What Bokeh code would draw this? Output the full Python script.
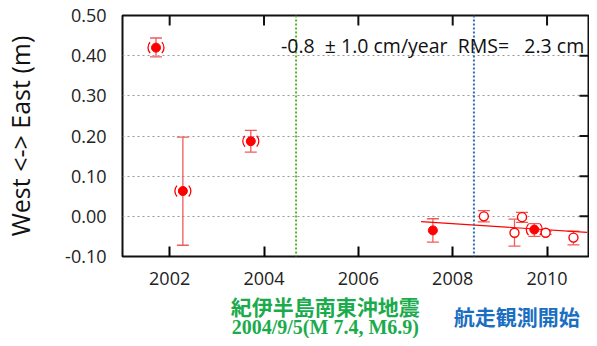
import numpy as np
from bokeh.plotting import figure
from bokeh.layouts import column
from bokeh.models import (FixedTicker, Span, Label, Whisker, TeeHead,
                          ColumnDataSource, Range1d)
from bokeh.core.properties import value
from bokeh.embed import file_html
from bokeh.resources import INLINE

# ---- data ----
years_filled = [2001.71, 2002.28, 2003.72, 2007.58, 2009.73]
ew_filled = [0.420, 0.063, 0.187, -0.035, -0.033]
lo_filled = [0.397, -0.072, 0.160, -0.064, -0.050]
hi_filled = [0.444, 0.197, 0.214, -0.006, -0.018]
paren_flag = [1, 1, 1, 0, 1]

years_open = [2008.66, 2009.31, 2009.47, 2009.97, 2010.56]
ew_open = [0.000, -0.041, -0.002, -0.041, -0.053]
lo_open = [-0.014, -0.074, -0.015, -0.045, -0.071]
hi_open = [0.014, -0.007, 0.010, -0.037, -0.037]

trend_x = [2007.33, 2010.85]
trend_y = [-0.013, -0.040]

quake_year = 2004.68
survey_year = 2008.45

x_min, x_max = 2001.0, 2010.9
y_min, y_max = -0.1, 0.5
x_ticks = [2002, 2004, 2006, 2008, 2010]
y_ticks = [-0.1, 0.0, 0.1, 0.2, 0.3, 0.4, 0.5]
grid_ticks = [0.0, 0.1, 0.2, 0.3, 0.4]

NB = "\u00a0"
stat_text = f"-0.8{NB}{NB}\u00b1{NB}1.0 cm/year{NB}{NB}RMS={NB}{NB}{NB}2.3 cm"
ylabel = "West <-> East (m)"
quake_name = "紀伊半島南東沖地震"
quake_info = "2004/9/5(M 7.4, M6.9)"
survey_text = "航走観測開始"

RED = "#ff0000"
ERR = "#f25a5a"
GREEN = "#1aab4c"
BLUE = "#1b6fc2"
FONT = "Open Sans"

xr = Range1d(x_min, x_max)

p = figure(width=589, height=290, output_backend="svg", toolbar_location=None,
           x_range=xr, y_range=Range1d(y_min, y_max),
           min_border_left=112, min_border_top=15, min_border_right=0,
           min_border_bottom=34)
p.background_fill_color = "white"
p.border_fill_color = "white"
p.outline_line_color = "#111111"
p.outline_line_width = 2

# axes
p.xaxis.ticker = FixedTicker(ticks=x_ticks)
p.xaxis.major_tick_in = 10
p.xaxis.major_tick_out = 0
p.xaxis.minor_tick_line_color = None
p.xaxis.axis_line_color = None
p.xaxis.major_tick_line_width = 2
p.xaxis.major_label_standoff = 15
p.xaxis.major_label_text_font = FONT
p.xaxis.major_label_text_font_size = "18px"
p.xaxis.major_label_text_color = "#222222"

p.yaxis.ticker = FixedTicker(ticks=y_ticks)
p.yaxis.major_label_overrides = {t: f"{t:.2f}" for t in y_ticks}
p.yaxis.major_tick_in = 0
p.yaxis.major_tick_out = 0
p.yaxis.minor_tick_line_color = None
p.yaxis.axis_line_color = None
p.yaxis.major_label_standoff = 16
p.yaxis.major_label_text_font = FONT
p.yaxis.major_label_text_font_size = "18px"
p.yaxis.major_label_text_color = "#222222"
p.yaxis.axis_label = ylabel
p.yaxis.axis_label_text_font = FONT
p.yaxis.axis_label_text_font_style = "normal"
p.yaxis.axis_label_text_font_size = "25px"
p.yaxis.axis_label_text_color = "#111111"
p.yaxis.axis_label_standoff = 25

p.xgrid.grid_line_color = None
p.ygrid.ticker = FixedTicker(ticks=grid_ticks)
p.ygrid.grid_line_color = "#999999"
p.ygrid.grid_line_dash = "2 3"
p.ygrid.grid_line_width = 1

# inward ticks on top and right edges (half of each dash is clipped by the frame)
p.scatter(x_ticks, [y_max] * len(x_ticks), marker="dash", angle=np.pi / 2, size=20,
          line_color="#111111", line_width=2)
p.scatter([x_max] * len(grid_ticks), grid_ticks, marker="dash", size=20,
          line_color="#111111", line_width=2)

# event lines
p.add_layout(Span(location=quake_year, dimension="height", line_color="#55b52a",
                  line_dash="2 2", line_width=2))
p.add_layout(Span(location=survey_year, dimension="height", line_color="#2d6db3",
                  line_dash="2 2", line_width=2))

# trend
p.line(trend_x, trend_y, line_color=RED, line_width=1.2)

# error bars
src_f = ColumnDataSource(dict(x=years_filled, y=ew_filled, lo=lo_filled, hi=hi_filled,
                              pf=paren_flag))
src_o = ColumnDataSource(dict(x=years_open, y=ew_open, lo=lo_open, hi=hi_open))
for src in (src_f, src_o):
    p.add_layout(Whisker(source=src, base="x", lower="lo", upper="hi",
                         line_color=ERR, line_width=1.3,
                         upper_head=TeeHead(size=12, line_color=ERR, line_width=1.3),
                         lower_head=TeeHead(size=12, line_color=ERR, line_width=1.3)))

# parentheses around filled points
px = [x for x, f in zip(years_filled, paren_flag) if f]
py = [y for y, f in zip(ew_filled, paren_flag) if f]
p.arc(px, py, radius=8, radius_units="screen", start_angle=2.4, end_angle=3.9,
      line_color=RED, line_width=1.3)
p.arc(px, py, radius=8, radius_units="screen", start_angle=-0.75, end_angle=0.75,
      line_color=RED, line_width=1.3)

p.scatter("x", "y", source=src_o, size=9, marker="circle", fill_color="white",
          line_color=RED, line_width=1.4)
p.scatter("x", "y", source=src_f, size=9, marker="circle", fill_color=RED,
          line_color=RED)

# stats text
p.add_layout(Label(x=2004.36, y=0.425, text=stat_text, text_font=FONT,
                   text_font_size="19.5px", text_color="#111111",
                   text_baseline="middle", text_align="left"))

# ---- annotation strip below the chart (shares the x range) ----
q = figure(width=589, height=48, output_backend="svg", toolbar_location=None,
           x_range=xr, y_range=Range1d(48, 0), x_axis_type=None, y_axis_type=None,
           min_border_left=112, min_border_right=0, min_border_top=0,
           min_border_bottom=0)
q.outline_line_color = None
q.background_fill_color = "white"
q.border_fill_color = "white"
q.grid.grid_line_color = None

q.text(x=[2005.30], y=[15], text=[quake_name], text_font=value("Noto Sans CJK JP"),
       text_font_style="bold", text_font_size="21px", text_color=GREEN,
       text_align="center", text_baseline="middle")
q.text(x=[2005.30], y=[36.5], text=[quake_info], text_font=value("Liberation Serif"),
       text_font_style="bold", text_font_size="20px", text_color=GREEN,
       text_align="center", text_baseline="middle")
q.text(x=[2009.36], y=[25], text=[survey_text], text_font=value("Noto Sans CJK JP"),
       text_font_style="bold", text_font_size="21px", text_color=BLUE,
       text_align="center", text_baseline="middle")

layout = column(p, q, spacing=0)
open("out.html", "w").write(file_html(layout, INLINE))
